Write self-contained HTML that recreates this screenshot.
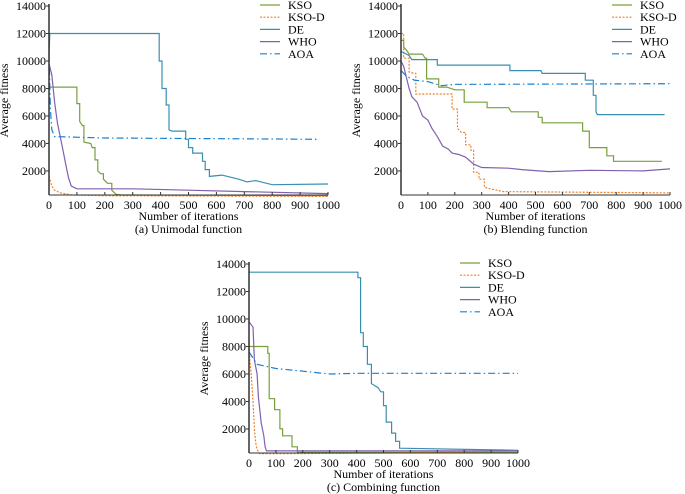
<!DOCTYPE html>
<html><head><meta charset="utf-8"><style>
body{margin:0;background:#fff;}
svg{display:block;font-family:"Liberation Serif",serif;}
</style></head><body>
<svg id="s" width="685" height="494" viewBox="0 0 685 494"></svg>
<script>
const seriesNames=["KSO","KSO-D","DE","WHO","AOA"];
const xTicks=[0,100,200,300,400,500,600,700,800,900,1000];
const yTicks=[2000,4000,6000,8000,10000,12000,14000];
const a_KSO=[[0,8100],[95,8100],[100,6900],[110,5600],[120,5300],[125,4100],[150,4000],[155,3700],[165,2800],[175,2000],[185,1800],[195,1400],[210,1100],[225,600],[240,300],[260,250],[1000,200]];
const a_KSOD=[[0,1600],[10,900],[20,600],[40,400],[80,250],[200,200],[1000,150]];
const a_DE=[[0,10500],[3,12000],[390,12000],[395,10000],[405,8000],[420,6800],[430,5000],[440,4900],[485,4900],[490,4300],[500,3700],[515,3300],[540,3300],[550,2700],[560,2100],[575,1600],[620,1700],[680,1400],[710,1200],[740,1300],[800,1000],[1000,1050]];
const a_WHO=[[0,9800],[10,9000],[20,7000],[30,5500],[40,4500],[50,3500],[60,2500],[70,1500],[80,900],[100,700],[300,700],[500,600],[700,500],[1000,350]];
const a_AOA=[[0,10500],[5,6500],[10,5000],[20,4500],[200,4400],[970,4300]];
const b_KSO=[[0,11500],[10,11000],[20,10800],[30,10500],[80,10500],[90,10200],[95,8700],[130,8700],[140,8100],[170,8100],[200,7900],[230,7900],[235,7000],[310,7000],[320,6600],[400,6600],[410,6300],[500,6300],[510,5900],[525,5500],[670,5500],[675,4900],[690,4900],[700,3700],[760,3700],[765,3100],[785,3100],[790,2700],[970,2700]];
const b_KSOD=[[0,12000],[10,10200],[30,9200],[50,9100],[55,7600],[175,7600],[190,6500],[210,5100],[225,4800],[240,3900],[260,3500],[270,1900],[290,1400],[310,800],[380,500],[1000,400]];
const b_DE=[[0,10700],[30,10400],[40,10100],[130,10100],[135,9700],[400,9700],[405,9300],[520,9300],[525,9100],[680,9100],[685,8600],[705,8600],[715,7500],[725,6300],[730,6100],[980,6100]];
const b_WHO=[[0,10000],[10,9600],[20,8800],[30,8000],[40,7400],[60,7000],[80,6000],[100,5700],[115,5100],[135,4500],[155,3800],[175,3600],[190,3300],[215,3200],[240,3000],[270,2500],[300,2250],[400,2200],[450,2100],[550,1950],[700,2050],[900,2000],[1000,2150]];
const b_AOA=[[0,9300],[20,8900],[50,8600],[100,8500],[150,8200],[200,8300],[300,8300],[1000,8350]];
const c_KSO=[[0,8000],[55,8000],[70,7500],[75,4200],[90,4200],[95,3400],[110,3400],[115,2000],[125,1500],[155,1500],[160,700],[175,700],[180,300],[1000,300]];
const c_KSOD=[[0,8600],[3,7000],[8,6000],[15,4000],[20,2000],[25,1000],[30,500],[40,200],[100,200],[500,250],[1000,400]];
const c_DE=[[0,13400],[400,13400],[405,13000],[415,9000],[425,8000],[440,6700],[455,5300],[480,5000],[490,4700],[500,3700],[510,2500],[525,2500],[530,1700],[545,1100],[560,600],[1000,450]];
const c_WHO=[[0,9800],[15,9400],[20,7000],[30,6000],[35,4300],[40,3400],[45,2500],[50,2000],[55,1500],[60,700],[65,400],[1000,400]];
const c_AOA=[[0,7600],[30,6700],[100,6400],[200,6200],[300,6000],[400,6050],[1000,6050]];

const styles=[{c:"#77a03c",d:""},{c:"#f0822a",d:"2,1.5"},{c:"#3a8fb0",d:""},{c:"#8060b0",d:""},{c:"#1a80d0",d:"7,3,1.5,3"}];
const svg=document.getElementById('s');
const NS="http://www.w3.org/2000/svg";
function el(t,at,txt){const e=document.createElementNS(NS,t);for(const k in at)e.setAttribute(k,at[k]);if(txt!==undefined)e.textContent=txt;svg.appendChild(e);return e;}
function chart(id,x0,x1,yTop,yBase,caption,data,steps,legX,legY){
  const ymax=14000,ymin=250;
  const sx=v=>x0+(v/1000)*(x1-x0);
  const sy=v=>yBase-(v-ymin)/(ymax-ymin)*(yBase-yTop);
  data.forEach((d,i)=>{
    let pts=[];
    d.forEach((q,k)=>{
      if(steps[i]&&k>0&&d[k-1][1]>q[1]+300) pts.push([q[0],d[k-1][1]]);
      pts.push(q);
    });
    const p=el('polyline',{points:pts.map(q=>sx(q[0]).toFixed(1)+','+sy(q[1]).toFixed(1)).join(' '),fill:'none',stroke:styles[i].c,'stroke-width':1.2,'stroke-dasharray':styles[i].d});
    
    
  });
  const ya=el('line',{x1:x0,y1:yTop-2,x2:x0,y2:yBase,stroke:'#333','stroke-width':1.5});
  
  const xa=el('line',{x1:x0,y1:yBase,x2:x1,y2:yBase,stroke:'#333','stroke-width':1});
  
  yTicks.forEach(v=>{
    el('line',{x1:x0-3,y1:sy(v),x2:x0,y2:sy(v),stroke:'#333'});
    const t=el('text',{x:x0-3,y:sy(v)+4,'text-anchor':'end','font-size':12},v);
    
  });
  xTicks.forEach(v=>{
    el('line',{x1:sx(v),y1:yBase,x2:sx(v),y2:yBase-3,stroke:'#333'});
    const t=el('text',{x:sx(v),y:yBase+14,'text-anchor':'middle','font-size':12},v);
    
  });
  const xt=el('text',{x:(x0+x1)/2,y:yBase+25,'text-anchor':'middle','font-size':12},'Number of iterations');
  
  const cp=el('text',{x:(x0+x1)/2,y:yBase+38,'text-anchor':'middle','font-size':12},caption);
  
  const yc=(yTop+yBase)/2;
  const yt=el('text',{x:x0-41,y:yc,'text-anchor':'middle','font-size':12,transform:'rotate(-90 '+(x0-41)+' '+yc+')'},'Average fitness');
  
  seriesNames.forEach((n,i)=>{
    const yy=legY+i*12.2;
    const l=el('line',{x1:legX,y1:yy,x2:legX+20,y2:yy,stroke:styles[i].c,'stroke-width':1.2,'stroke-dasharray':styles[i].d});
    
    const t=el('text',{x:legX+28,y:yy+4,'font-size':12},n);
    
  });
}
chart('chart-a',49,328,6,195,'(a) Unimodal function',[a_KSO,a_KSOD,a_DE,a_WHO,a_AOA],[1,0,1,0,0],260,5);
chart('chart-b',401,670,6,195,'(b) Blending function',[b_KSO,b_KSOD,b_DE,b_WHO,b_AOA],[1,1,1,0,0],612,5);
chart('chart-c',249,518,264,453,'(c) Combining function',[c_KSO,c_KSOD,c_DE,c_WHO,c_AOA],[1,0,1,0,0],460,263);
</script>
</body></html>
